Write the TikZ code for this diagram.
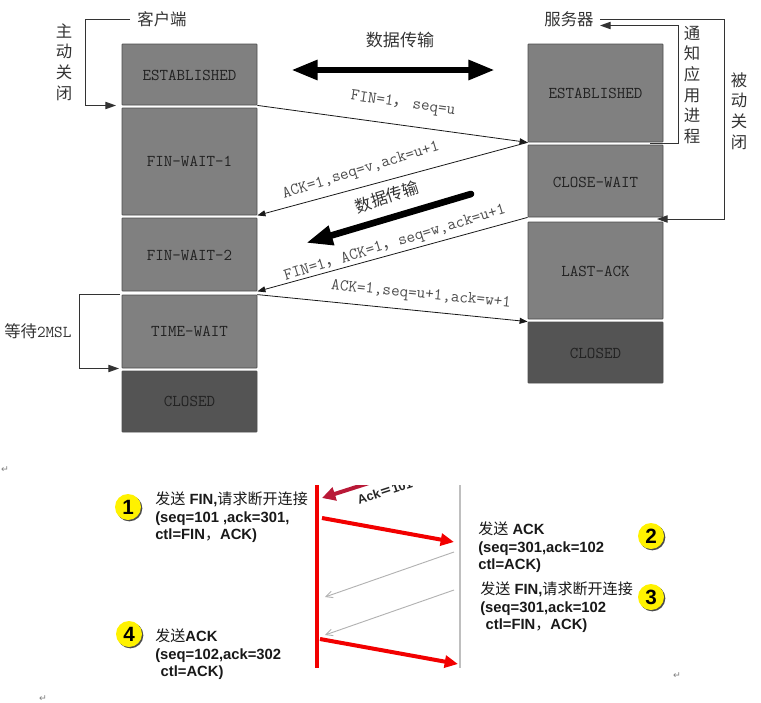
\documentclass[tikz,border=0pt]{standalone}
\usepackage{fontspec}
\setmainfont{Liberation Sans}
\newfontfamily\cjk{Noto Sans CJK SC}
\newfontfamily\retfont{DejaVu Sans}
\usetikzlibrary{arrows.meta,shadows}
\definecolor{boxgray}{gray}{0.5}
\definecolor{closedgray}{gray}{0.33}
\definecolor{inkgray}{gray}{0.13}
\definecolor{crimson}{RGB}{185,25,55}
\newcommand{\bx}[6]{\node[#2] (#1) at ({(#3+#4)/2},{(#5+#6)/2}) [minimum width=135*0.75pt,minimum height={(#6-#5)*0.75pt}] {};}
\tikzset{
  x=0.75pt,y=-0.75pt,
  state/.style={draw=black!70,line width=0.6pt,fill=boxgray,inner sep=0pt,rounded corners=0.5pt},
  closedstate/.style={state,fill=closedgray},
  statelabel/.style={font=\ttfamily\fontsize{12.4}{12.4}\selectfont,text=inkgray,inner sep=0pt},
  msg/.style={font=\ttfamily\fontsize{12.5}{12.5}\selectfont,text=black!70,inner sep=0pt},
  head/.style={font=\cjk\fontsize{12.3}{12.3}\selectfont,text=black!80,inner sep=0pt},
  vert/.style={font=\cjk\fontsize{12.3}{15.5}\selectfont,text=black!80,align=center,inner sep=0pt},
  thin arrow/.style={draw=black!90,line width=0.6pt,-{Triangle[length=6pt,width=4.5pt]}},
  bracket/.style={draw=black!80,line width=0.7pt,-{Triangle[length=8pt,width=5.5pt]}},
  thick arrow/.style={draw=black,line width=5pt,-{Triangle[length=20pt,width=14pt]}},
  red arrow/.style={draw=red!95!black,line width=3pt,-{Triangle[length=10pt,width=9pt]}},
  ghost arrow/.style={draw=black!30,line width=0.7pt,-{Straight Barb[length=5pt,width=5pt,open]}},
  badge/.style={circle,fill=yellow,minimum size=19.5pt,inner sep=0pt,font=\bfseries\fontsize{15.5}{15.5}\selectfont,drop shadow={shadow xshift=1pt,shadow yshift=-1pt,opacity=1,fill=black!70}},
  note/.style={font=\bfseries\fontsize{11.1}{13.1}\selectfont,align=left,anchor=north west,inner sep=0pt,text=black!90},
  retmark/.style={font=\retfont\fontsize{7}{7}\selectfont,text=black!50,inner sep=0pt}
}
\newcommand{\zh}[1]{{\cjk\mdseries\fontsize{11.3}{13}\selectfont #1}}
\begin{document}
\begin{tikzpicture}
\useasboundingbox (0,0) rectangle (761,703);
% client states
\bx{ce}{state}{122}{257}{44}{105}
\bx{cf1}{state}{122}{257}{108}{215}
\bx{cf2}{state}{122}{257}{218}{291}
\bx{ct}{state}{122}{257}{295}{368}
\bx{cc}{closedstate}{122}{257}{371}{432}
% server states
\bx{se}{state}{528}{663}{44}{142}
\bx{scw}{state}{528}{663}{145}{217}
\bx{sla}{state}{528}{663}{222}{319}
\bx{sc}{closedstate}{528}{663}{322}{383}
\node[statelabel] (lce) at (189.5,75) {ESTABLISHED};
\node[statelabel] (lcf1) at (189.5,161) {FIN-WAIT-1};
\node[statelabel] (lcf2) at (189.5,255) {FIN-WAIT-2};
\node[statelabel] (lct) at (189.5,331) {TIME-WAIT};
\node[statelabel] (lcc) at (189.5,401.5) {CLOSED};
\node[statelabel] (lse) at (595.5,93) {ESTABLISHED};
\node[statelabel] (lscw) at (595.5,182) {CLOSE-WAIT};
\node[statelabel] (lsla) at (595.5,271) {LAST-ACK};
\node[statelabel] (lsc) at (595.5,353) {CLOSED};
% headings
\node[head] (client) at (162,19.5) {客户端};
\node[head] (server) at (569,19.5) {服务器};
\node[head,font=\cjk\fontsize{12.8}{12.8}\selectfont] (xfer) at (400,40) {数据传输};
\node[vert] (active) at (64,62) {主\\动\\关\\闭};
\node[vert] (notify) at (692,85) {通\\知\\应\\用\\进\\程};
\node[vert] (passive) at (739,111) {被\\动\\关\\闭};
\node[inner sep=0pt,font=\cjk\fontsize{12.3}{12.3}\selectfont,text=black!80,anchor=west] (wait) at (4,331) {等待\ttfamily\fontsize{12.5}{12.5}\selectfont 2MSL};
% brackets
\coordinate (a0) at (130,19.5);
\coordinate (a1) at (85,19.5);
\coordinate (a2) at (85,105.5);
\coordinate (a3) at (116,105.5);
\draw[bracket] (a0) -- (a1) -- (a2) -- (a3);
\coordinate (b0) at (600,19.5);
\coordinate (b1) at (724.5,19.5);
\coordinate (b2) at (724.5,219);
\coordinate (b3) at (657,219);
\draw[bracket] (b0) -- (b1) -- (b2) -- (b3);
\coordinate (n0) at (650,143.5);
\coordinate (n1) at (678,143.5);
\coordinate (n2) at (678,25.5);
\coordinate (n3) at (600,25.5);
\draw[bracket] (n0) -- (n1) -- (n2) -- (n3);
\coordinate (w0) at (120,294.5);
\coordinate (w1) at (79,294.5);
\coordinate (w2) at (79,368.5);
\coordinate (w3) at (119,368.5);
\draw[bracket] (w0) -- (w1) -- (w2) -- (w3);
% thick arrows
\coordinate (t1) at (291,70);
\coordinate (t2) at (495,70);
\draw[thick arrow,{Triangle[length=20pt,width=14pt]}-{Triangle[length=20pt,width=14pt]}] (t1) -- (t2);
\coordinate (t3) at (471,194);
\coordinate (t4) at (306,243);
\draw[thick arrow,line cap=round] (t3) -- (t4);
\node[head,rotate=18] (xfer2) at (387,197) {数据传输};
% messages
\draw[thin arrow] (ce.south east) -- (se.south west);
\draw[thin arrow] (se.south west) -- (cf1.south east);
\draw[thin arrow] (scw.south west) -- (cf2.south east);
\draw[thin arrow] (ct.north east) -- (sc.north west);
\node[msg,rotate=-8] (m1) at (403,104) {FIN=1{\cjk ，}\,seq=u};
\node[msg,rotate=17] (m2) at (361,171) {ACK=1,seq=v,ack=u+1};
\node[msg,rotate=17] (m3) at (395,243.5) {FIN=1{\cjk ，}ACK=1{\cjk ，}seq=w,ack=u+1};
\node[msg,rotate=-5.5] (m4) at (421,295) {ACK=1,seq=u+1,ack=w+1};
% lower diagram
\coordinate (rt) at (317,485);
\coordinate (rb) at (317,668);
\coordinate (gt) at (460,485);
\coordinate (gb) at (460,668);
\draw[draw=black!25,line width=1.2pt] (gt) -- (gb);
\draw[draw=red!95!black,line width=3.6pt] (rt) -- (rb);
\begin{scope}
\clip (300,485) rectangle (470,520);
\coordinate (ca) at (372,482);
\coordinate (cb) at (322,498);
\draw[draw=crimson,line width=3pt,-{Triangle[length=10pt,width=10pt]}] (ca) -- (cb);
\node[anchor=south west,inner sep=0pt,rotate=18,font=\bfseries\fontsize{9.5}{9.5}\selectfont,text=black!85] (ackc) at (359,505) {Ack{\cjk ＝}101};
\end{scope}
\coordinate (r1a) at (322,518);
\coordinate (r1b) at (454,542);
\draw[red arrow] (r1a) -- (r1b);
\coordinate (r2a) at (320,639);
\coordinate (r2b) at (458,664);
\draw[red arrow] (r2a) -- (r2b);
\coordinate (g1a) at (454,552);
\coordinate (g1b) at (325,597);
\draw[ghost arrow] (g1a) -- (g1b);
\coordinate (g2a) at (454,590);
\coordinate (g2b) at (325,635);
\draw[ghost arrow] (g2a) -- (g2b);
% notes
\node[badge] (b1) at (128,507) {1};
\node[badge] (b4) at (129,634) {4};
\node[badge] (b2) at (651,536) {2};
\node[badge] (b3) at (651,597) {3};
\node[note] (t1n) at (155,492) {\zh{发送} FIN,\zh{请求断开连接}\\(seq=101 ,ack=301,\\ctl=FIN\zh{，}ACK)};
\node[note] (t4n) at (155,629) {\zh{发送}ACK\\(seq=102,ack=302\\\hspace*{4pt}ctl=ACK)};
\node[note] (t2n) at (478,522) {\zh{发送} ACK\\(seq=301,ack=102\\ctl=ACK)};
\node[note] (t3n) at (480,582) {\zh{发送} FIN,\zh{请求断开连接}\\(seq=301,ack=102\\\hspace*{4pt}ctl=FIN\zh{，}ACK)};
% return marks
\node[retmark] (r1) at (5,470) {↵};
\node[retmark] (r2) at (43,699) {↵};
\node[retmark] (r3) at (677,676) {↵};
\end{tikzpicture}
\end{document}
